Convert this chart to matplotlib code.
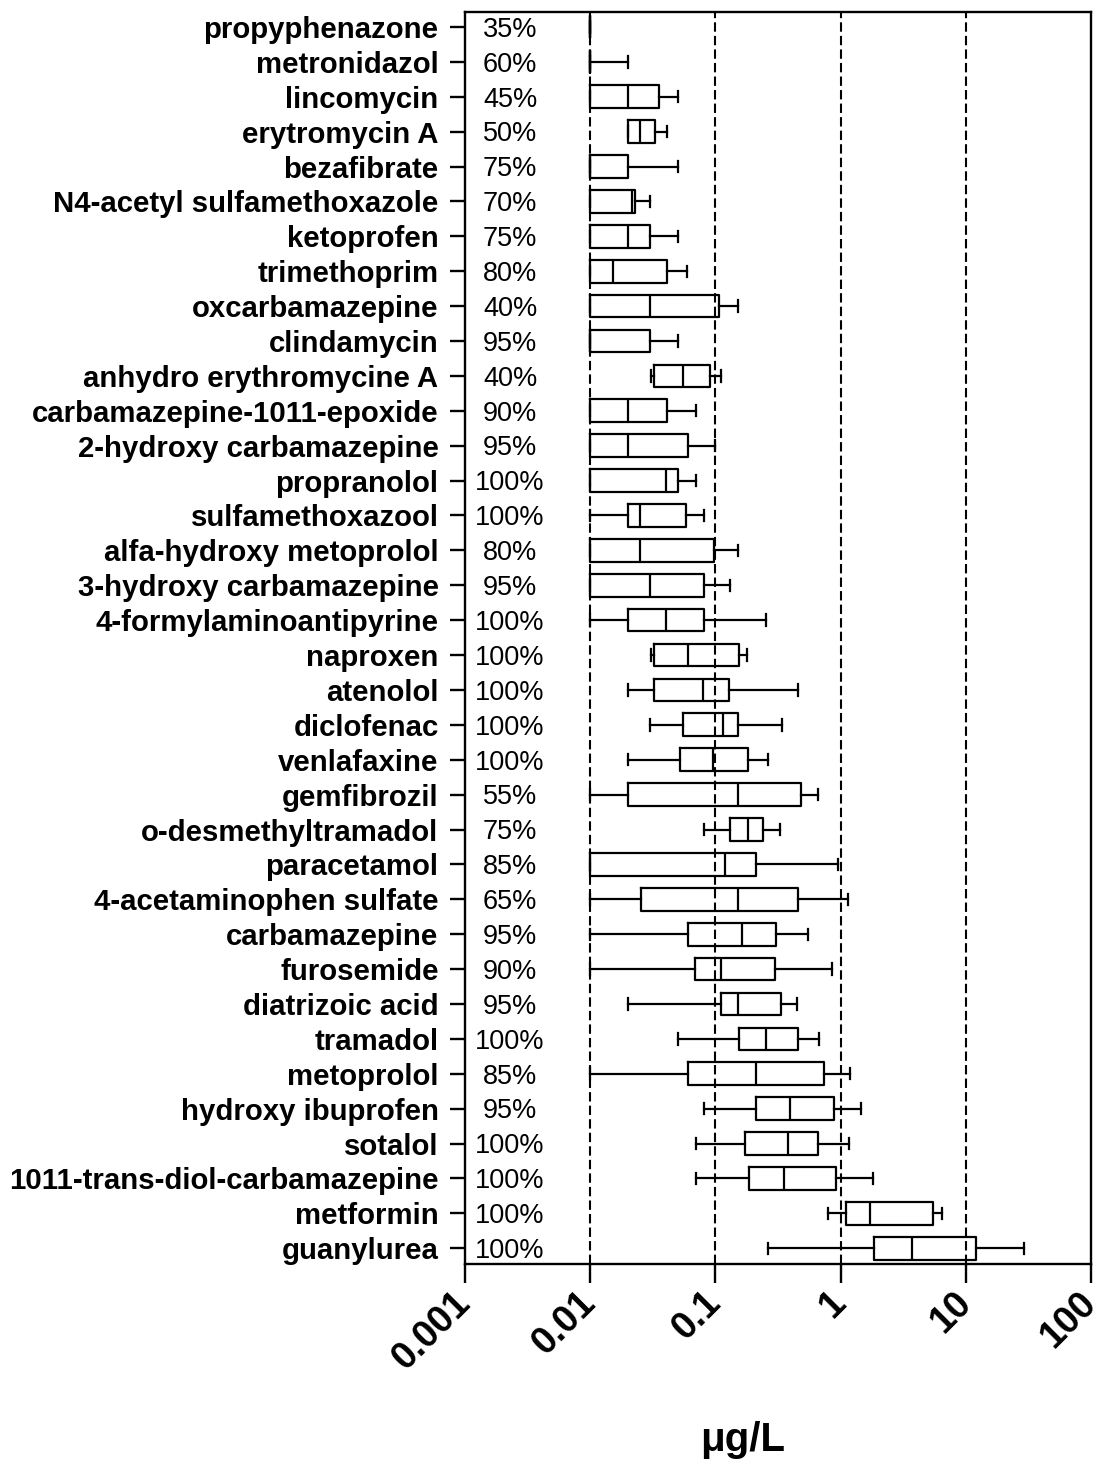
import matplotlib
matplotlib.use("Agg")
import matplotlib.pyplot as plt
import matplotlib.transforms as mtransforms

# compounds, top to bottom
names = ["propyphenazone", "metronidazol", "lincomycin", "erytromycin A",
         "bezafibrate", "N4-acetyl sulfamethoxazole", "ketoprofen",
         "trimethoprim", "oxcarbamazepine", "clindamycin",
         "anhydro erythromycine A", "carbamazepine-1011-epoxide",
         "2-hydroxy carbamazepine", "propranolol", "sulfamethoxazool",
         "alfa-hydroxy metoprolol", "3-hydroxy carbamazepine",
         "4-formylaminoantipyrine", "naproxen", "atenolol", "diclofenac",
         "venlafaxine", "gemfibrozil", "o-desmethyltramadol", "paracetamol",
         "4-acetaminophen sulfate", "carbamazepine", "furosemide",
         "diatrizoic acid", "tramadol", "metoprolol", "hydroxy ibuprofen",
         "sotalol", "1011-trans-diol-carbamazepine", "metformin", "guanylurea"]

detect = ["35%", "60%", "45%", "50%", "75%", "70%", "75%", "80%", "40%", "95%",
          "40%", "90%", "95%", "100%", "100%", "80%", "95%", "100%", "100%",
          "100%", "100%", "100%", "55%", "75%", "85%", "65%", "95%", "90%",
          "95%", "100%", "85%", "95%", "100%", "100%", "100%", "100%"]

# box statistics in ug/L
whislo = [0.01, 0.01, 0.01, 0.020, 0.01, 0.01, 0.01, 0.01, 0.01, 0.01,
          0.0305, 0.01, 0.01, 0.01, 0.01, 0.01, 0.01, 0.01, 0.0305, 0.020,
          0.030, 0.020, 0.01, 0.0813, 0.01, 0.01, 0.01, 0.01, 0.020, 0.0507,
          0.01, 0.0818, 0.0702, 0.0702, 0.787, 0.261]
q1 = [0.01, 0.01, 0.01, 0.020, 0.01, 0.01, 0.01, 0.01, 0.01, 0.01,
      0.0322, 0.01, 0.01, 0.01, 0.020, 0.01, 0.01, 0.020, 0.0322, 0.0322,
      0.0548, 0.0522, 0.020, 0.130, 0.01, 0.0253, 0.060, 0.0686, 0.111, 0.155,
      0.060, 0.212, 0.172, 0.184, 1.10, 1.84]
med = [0.01, 0.01, 0.0202, 0.0251, 0.01, 0.0215, 0.0202, 0.0151, 0.0301, 0.01,
       0.0556, 0.0202, 0.0202, 0.0404, 0.0251, 0.0251, 0.0301, 0.0404, 0.0601,
       0.080, 0.116, 0.0953, 0.1507, 0.181, 0.120, 0.152, 0.163, 0.111, 0.151,
       0.253, 0.212, 0.393, 0.381, 0.355, 1.72, 3.75]
q3 = [0.01, 0.01, 0.0356, 0.033, 0.0202, 0.0229, 0.0301, 0.041, 0.1076, 0.0301,
      0.0906, 0.041, 0.0605, 0.0507, 0.0583, 0.0975, 0.0813, 0.0813, 0.155,
      0.1285, 0.1507, 0.182, 0.483, 0.242, 0.211, 0.458, 0.307, 0.30, 0.336,
      0.458, 0.734, 0.883, 0.664, 0.918, 5.52, 12.0]
whishi = [0.01, 0.020, 0.0504, 0.041, 0.0504, 0.0301, 0.0504, 0.0598, 0.1507,
          0.0504, 0.111, 0.0702, 0.10, 0.0702, 0.0813, 0.1507, 0.131, 0.252,
          0.18, 0.454, 0.343, 0.262, 0.664, 0.328, 0.957, 1.14, 0.547, 0.851,
          0.451, 0.674, 1.19, 1.46, 1.16, 1.80, 6.44, 29.3]

xticks = [0.001, 0.01, 0.1, 1, 10, 100]
xticklabels = ["0.001", "0.01", "0.1", "1", "10", "100"]

plt.rcParams['font.family'] = ['Liberation Sans', 'DejaVu Sans']

fig = plt.figure(figsize=(11.05, 14.59), dpi=100)
ax = fig.add_axes([0.4208, 0.1337, 0.5665, 0.8581])

stats = []
for i in range(len(names)):
    stats.append(dict(whislo=whislo[i], q1=q1[i], med=med[i], q3=q3[i],
                      whishi=whishi[i], label=names[i]))

pos = list(range(len(names)))
lw = 1.6
ax.bxp(stats, positions=pos, widths=0.65, orientation='horizontal',
       showfliers=False,
       boxprops=dict(color='black', linewidth=lw),
       medianprops=dict(color='black', linewidth=lw),
       whiskerprops=dict(color='black', linewidth=lw),
       capprops=dict(color='black', linewidth=lw))

# dashed reference lines at each decade
for v in [0.01, 0.1, 1, 10]:
    ax.axvline(v, color='black', lw=1.5, ls=(0, (4.5, 2)), zorder=0)

ax.set_xscale('log')
ax.set_xlim(0.001, 100)
ax.set_ylim(35.45, -0.43)
ax.set_xticks(xticks)
ax.set_xticklabels(xticklabels, rotation=45, ha='right', va='center',
                   rotation_mode='anchor', fontsize=27, fontweight='bold')
shift = mtransforms.ScaledTranslation(0.06, -0.09, fig.dpi_scale_trans)
for lab in ax.get_xticklabels():
    lab.set_transform(lab.get_transform() + shift)
ax.minorticks_off()
ax.set_yticks(pos)
ax.set_yticklabels(names, fontsize=21.2, fontweight='bold')
ax.tick_params(axis='y', length=11, width=1.7, pad=8)
ax.tick_params(axis='x', length=14, width=1.7, pad=10)
for s in ax.spines.values():
    s.set_linewidth(1.7)

# detection frequency next to the axis
trans = mtransforms.blended_transform_factory(ax.transAxes, ax.transData)
for i, d in enumerate(detect):
    ax.text(0.072, i + 0.08, d, transform=trans, ha='center', va='center',
            fontsize=19.5)

fig.text(743 / 1105, 1 - 1440 / 1459, "\u03bcg/L", ha='center', va='center',
         fontsize=29, fontweight='bold')

fig.savefig("out.png", dpi=100)
